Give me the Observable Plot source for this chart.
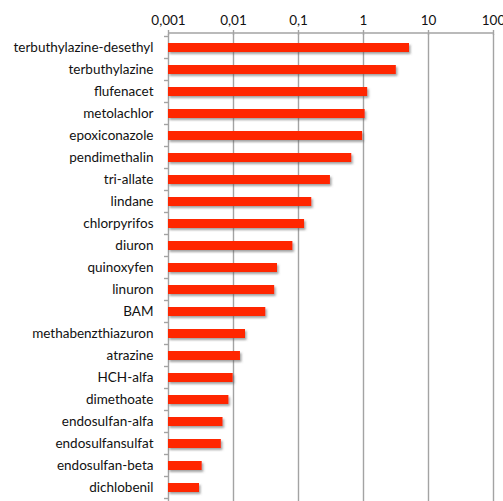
<!DOCTYPE html>
<html>
<head>
<meta charset="utf-8">
<script src="https://cdn.jsdelivr.net/npm/d3@7"></script>
<script src="https://cdn.jsdelivr.net/npm/@observablehq/plot@0.6"></script>
<style>
  html, body { margin: 0; padding: 0; background: #fff; }
  #chart svg { display: block; }
</style>
</head>
<body>
<div id="chart"></div>
<script>
// Pesticide concentrations, log scale (0,001 – 100)
const substances = [
  "terbuthylazine-desethyl", "terbuthylazine", "flufenacet", "metolachlor",
  "epoxiconazole", "pendimethalin", "tri-allate", "lindane", "chlorpyrifos",
  "diuron", "quinoxyfen", "linuron", "BAM", "methabenzthiazuron", "atrazine",
  "HCH-alfa", "dimethoate", "endosulfan-alfa", "endosulfansulfat",
  "endosulfan-beta", "dichlobenil"
];
const values = [
  5.1, 3.2, 1.16, 1.06, 0.97, 0.66, 0.31, 0.16, 0.124, 0.082, 0.0475,
  0.043, 0.0314, 0.0153, 0.0128, 0.0099, 0.0085, 0.0069, 0.0065, 0.0033, 0.0030
];
const tickValues = [0.001, 0.01, 0.1, 1, 10, 100];
const tickLabels = ["0,001", "0,01", "0,1", "1", "10", "100"];

const data = substances.map((name, i) => ({name, value: values[i]}));
const xMin = tickValues[0];
const gridColor = "#a3a3a3";
const font = "Lato, 'Open Sans', sans-serif";

const chart = Plot.plot({
  width: 503,
  height: 501,
  marginTop: 34,
  marginBottom: 0,
  marginLeft: 168,
  marginRight: 10,
  style: {fontFamily: font, fontSize: "13.5px", color: "#111", background: "#fff"},
  x: {type: "log", domain: [xMin, 100]},
  y: {domain: substances, paddingInner: 0.6, paddingOuter: 0.3, axis: null},
  marks: [
    // vertical gridlines at each decade
    Plot.ruleX(tickValues, {stroke: gridColor, strokeWidth: 1.4}),
    Plot.barX(data, {x1: () => xMin, x2: "value", y: "name", fill: "#ff2600"}),
    Plot.axisX({
      anchor: "top",
      ticks: tickValues,
      tickFormat: d => tickLabels[tickValues.indexOf(d)],
      tickSize: 5,
      tickPadding: 5,
      stroke: gridColor,
      strokeWidth: 1.4,
      fontSize: 13.5,
      label: null
    }),
    // category labels, right-aligned left of the axis
    Plot.text(substances, {
      x: () => xMin, y: d => d, text: d => d,
      dx: -15, textAnchor: "end", fontSize: 13.5, fill: "#111"
    })
  ]
});

// Decorations built from the chart's own scales
const svg = d3.select(chart);
const xs = chart.scale("x");
const ys = chart.scale("y");
const axisTop = 34 - 1;

// Soft drop shadow under the bars
const defs = svg.insert("defs", ":first-child");
defs.append("filter")
  .attr("id", "barShadow")
  .attr("x", "-5%").attr("y", "-30%").attr("width", "115%").attr("height", "200%")
  .append("feDropShadow")
  .attr("dx", 1.5).attr("dy", 2).attr("stdDeviation", 1.2)
  .attr("flood-color", "#555").attr("flood-opacity", 0.55);
svg.selectAll("g[aria-label='bar']").attr("filter", "url(#barShadow)");

// Horizontal axis line along the top of the plot
svg.append("line")
  .attr("x1", xs.apply(xMin)).attr("x2", xs.apply(100))
  .attr("y1", axisTop).attr("y2", axisTop)
  .attr("stroke", gridColor).attr("stroke-width", 1.4);

// Category tick marks between rows on the left axis
const step = ys.step, bw = ys.bandwidth;
const boundaries = substances.map(s => ys.apply(s) - (step - bw) / 2);
boundaries.push(ys.apply(substances[substances.length - 1]) + bw + (step - bw) / 2);
svg.append("g").selectAll("line").data(boundaries).join("line")
  .attr("x1", xs.apply(xMin) - 4).attr("x2", xs.apply(xMin))
  .attr("y1", d => d).attr("y2", d => d)
  .attr("stroke", gridColor).attr("stroke-width", 1.4);

document.getElementById("chart").appendChild(chart);
</script>
</body>
</html>
